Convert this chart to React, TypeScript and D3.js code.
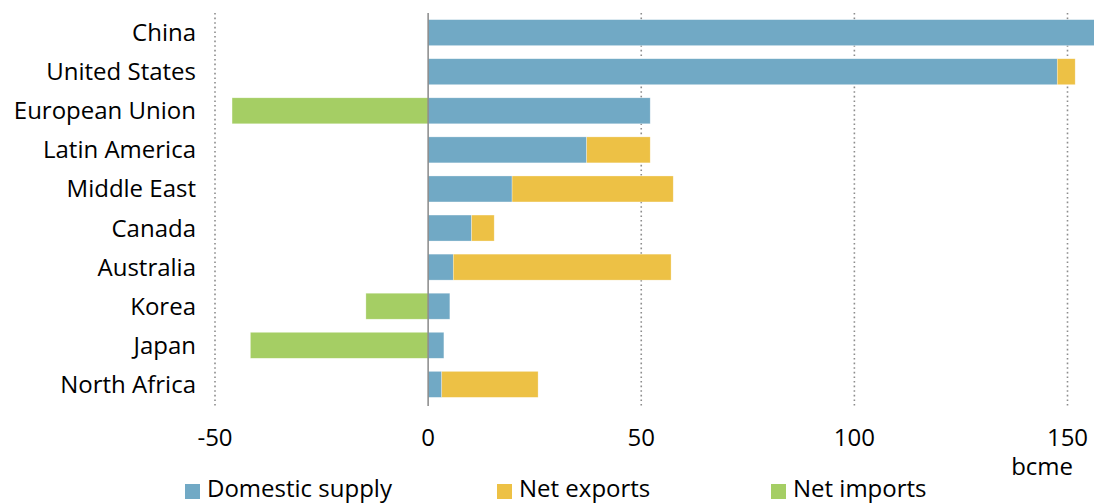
import React from "react";
import * as d3 from "d3";

const categories = ["China", "United States", "European Union", "Latin America", "Middle East", "Canada", "Australia", "Korea", "Japan", "North Africa"];
const domesticSupply = [165, 147.6, 52.1, 37.2, 19.7, 10.2, 5.9, 5.1, 3.7, 3.2];
const netExports = [0, 4.2, 0, 14.9, 37.8, 5.3, 51.1, 0, 0, 22.6];
const netImports = [0, 0, -46, 0, 0, 0, 0, -14.6, -41.7, 0];
const xTicks = [-50, 0, 50, 100, 150];
const seriesNames = ["Domestic supply", "Net exports", "Net imports"];
const colors = ["#71A9C5", "#EDC145", "#A5CE64"];

const W = 1094;
const H = 504;
const FONT = "'Open Sans', sans-serif";
const FS = 24;

export default function App() {
  const x = d3.scaleLinear().domain([-50, 150]).range([215, 1067.5]);
  const y = d3.scaleBand<string>().domain(categories).range([13, 404]).paddingInner(0.335).paddingOuter(0.17);
  const bw = y.bandwidth();
  return (
    <svg width={W} height={H} style={{ position: "absolute", left: 0, top: 0, fontFamily: FONT }}>
      <defs>
        <clipPath id="plot">
          <rect x={0} y={0} width={W} height={H} />
        </clipPath>
      </defs>
      {xTicks.filter((t) => t !== 0).map((t) => (
        <line key={t} x1={x(t)} x2={x(t)} y1={13} y2={406} stroke="#8c8c8c" strokeWidth={1.6} strokeDasharray="1.6,3" />
      ))}
      <g clipPath="url(#plot)">
        {categories.map((c, i) => (
          <g key={c}>
            <rect x={x(0)} y={y(c)} width={x(domesticSupply[i]) - x(0)} height={bw} fill={colors[0]} stroke="#fff" strokeOpacity={0.5} strokeWidth={0.6} />
            {netExports[i] > 0 && (
              <rect x={x(domesticSupply[i])} y={y(c)} width={x(domesticSupply[i] + netExports[i]) - x(domesticSupply[i])} height={bw} fill={colors[1]} stroke="#fff" strokeOpacity={0.5} strokeWidth={0.6} />
            )}
            {netImports[i] < 0 && (
              <rect x={x(netImports[i])} y={y(c)} width={x(0) - x(netImports[i])} height={bw} fill={colors[2]} stroke="#fff" strokeOpacity={0.5} strokeWidth={0.6} />
            )}
          </g>
        ))}
      </g>
      <line x1={x(0)} x2={x(0)} y1={13} y2={406} stroke="#888" strokeWidth={1.5} />
      {categories.map((c) => (
        <text key={c} x={196} y={(y(c) as number) + bw / 2 + 8.5} textAnchor="end" fontSize={FS} fill="#000">
          {c}
        </text>
      ))}
      {xTicks.map((t) => (
        <text key={t} x={x(t)} y={446} textAnchor="middle" fontSize={FS} fill="#000">
          {t}
        </text>
      ))}
      <text x={1073} y={475} textAnchor="end" fontSize={FS} fill="#000">bcme</text>
      {seriesNames.map((s, i) => {
        const lx = [185, 497, 771][i];
        return (
          <g key={s}>
            <rect x={lx} y={484} width={15} height={15} fill={colors[i]} />
            <text x={lx + 22} y={497} fontSize={FS} fill="#000">{s}</text>
          </g>
        );
      })}
    </svg>
  );
}
